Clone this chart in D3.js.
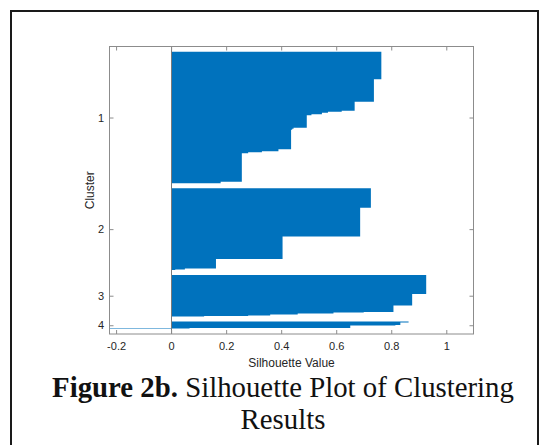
<!DOCTYPE html>
<html>
<head>
<meta charset="utf-8">
<script src="https://cdn.jsdelivr.net/npm/d3@7"></script>
<style>
    html, body { margin: 0; padding: 0; background: #fff; }
    svg { display: block; }
</style>
</head>
<body>
<div id="chart"></div>
<script>
// Silhouette-Werte je Cluster, absteigend sortiert: [Wert, Anzahl Punkte]
var clusterNames = ['1', '2', '3', '4'];
var cluster1 = [[0.764, 55], [0.737, 45], [0.667, 18], [0.62, 2], [0.57, 2], [0.548, 3], [0.51, 2],
                [0.493, 25], [0.445, 2], [0.44, 2], [0.436, 39], [0.39, 4], [0.33, 2], [0.28, 2],
                [0.257, 57], [0.18, 3]];
var cluster2 = [[0.726, 39], [0.687, 57], [0.405, 45], [0.163, 19], [0.05, 2], [0.015, 1]];
var cluster3 = [[0.927, 38], [0.876, 23], [0.808, 13], [0.70, 1], [0.59, 2], [0.46, 2],
                [0.36, 2], [0.28, 1], [0.12, 1]];
var cluster4 = [[0.863, 2], [0.833, 5], [0.815, 1], [0.651, 5], [0.067, 1], [-0.225, 1]];
var xTicks = [-0.2, 0, 0.2, 0.4, 0.6, 0.8, 1];
var xLimits = [-0.225, 1.1];

(function () {
    var width = 545, height = 445;
    var barColor = '#0072BD';
    var axisColor = '#8c8c8c';
    var textColor = '#262626';

    var clusters = [cluster1, cluster2, cluster3, cluster4];
    var n = d3.sum(clusters, function (c) { return d3.sum(c, function (d) { return d[1]; }); });
    var space = Math.max(Math.floor(0.02 * n), 2);

    // Zeilen wie bei MATLAB silhouette(): Lücke vor, zwischen und nach den Clustern
    var groups = [];
    var centers = [];
    var pos = space;
    clusters.forEach(function (c) {
        var start = pos;
        var runs = [];
        c.forEach(function (d) {
            runs.push({ value: d[0], start: pos, end: pos + d[1] });
            pos += d[1];
        });
        groups.push({ start: start, end: pos, runs: runs });
        centers.push((start + pos) / 2);
        pos += space;
    });
    var totalRows = pos;

    var plot = { left: 109.5, right: 473.5, top: 46.5, bottom: 334 };

    var x = d3.scaleLinear().domain(xLimits).range([plot.left - 0.3, plot.right + 0.3]);
    var y = d3.scaleLinear().domain([0, totalRows]).range([plot.top + 0.2, plot.bottom]);

    var svg = d3.select('#chart')
        .append('svg')
        .attr('width', width)
        .attr('height', height);

    svg.append('rect')
        .attr('width', width)
        .attr('height', height)
        .attr('fill', '#fff');

    // Rahmen um die Abbildung
    svg.append('rect')
        .attr('x', 11)
        .attr('y', 11)
        .attr('width', 527)
        .attr('height', height)
        .attr('fill', 'none')
        .attr('stroke', '#1a1a1a')
        .attr('stroke-width', 2);

    /* Balken: ein Treppenpfad je Cluster, damit keine Nähte entstehen */
    function clusterPath(g) {
        var p = d3.path();
        p.moveTo(x(0), y(g.start));
        g.runs.forEach(function (r) {
            p.lineTo(x(r.value), y(r.start));
            p.lineTo(x(r.value), y(r.end));
        });
        p.lineTo(x(0), y(g.end));
        p.closePath();
        return p.toString();
    }

    svg.append('g')
        .selectAll('path')
        .data(groups)
        .join('path')
        .attr('d', clusterPath)
        .attr('fill', barColor);

    // Nulllinie
    svg.append('line')
        .attr('x1', Math.round(x(0)) + 0.5)
        .attr('x2', Math.round(x(0)) + 0.5)
        .attr('y1', plot.top)
        .attr('y2', plot.bottom)
        .attr('stroke', '#7a7a7a')
        .attr('stroke-width', 1);

    /* Achsen */
    function styleAxis(g) {
        g.select('.domain').remove();
        g.selectAll('.tick line').attr('stroke', axisColor);
        g.selectAll('.tick text')
            .attr('fill', textColor)
            .attr('font-family', 'Liberation Sans, Arial, sans-serif')
            .attr('font-size', 11);
    }

    svg.append('g')
        .attr('transform', 'translate(0,' + plot.bottom + ')')
        .call(d3.axisBottom(x).tickValues(xTicks).tickSize(-4).tickPadding(8.5)
            .tickFormat(function (d) { return String(d); }))
        .call(styleAxis);

    svg.append('g')
        .attr('transform', 'translate(0,' + plot.top + ')')
        .call(d3.axisTop(x).tickValues(xTicks).tickSize(-4).tickFormat(''))
        .call(styleAxis);

    svg.append('g')
        .attr('transform', 'translate(' + plot.left + ',0)')
        .call(d3.axisLeft(y).tickValues(centers).tickSize(-4).tickPadding(5.5)
            .tickFormat(function (d, i) { return clusterNames[i]; }))
        .call(styleAxis);

    svg.append('g')
        .attr('transform', 'translate(' + plot.right + ',0)')
        .call(d3.axisRight(y).tickValues(centers).tickSize(-4).tickFormat(''))
        .call(styleAxis);

    svg.append('rect')
        .attr('x', plot.left)
        .attr('y', plot.top)
        .attr('width', plot.right - plot.left)
        .attr('height', plot.bottom - plot.top)
        .attr('fill', 'none')
        .attr('stroke', axisColor)
        .attr('stroke-width', 1);

    /* Achsenbeschriftungen */
    svg.append('text')
        .attr('x', (plot.left + plot.right) / 2)
        .attr('y', 366.5)
        .attr('text-anchor', 'middle')
        .attr('font-family', 'Liberation Sans, Arial, sans-serif')
        .attr('font-size', 12)
        .attr('fill', textColor)
        .text('Silhouette Value');

    svg.append('text')
        .attr('transform', 'translate(93.5,' + ((plot.top + plot.bottom) / 2) + ') rotate(-90)')
        .attr('text-anchor', 'middle')
        .attr('font-family', 'Liberation Sans, Arial, sans-serif')
        .attr('font-size', 12)
        .attr('fill', textColor)
        .text('Cluster');

    /* Bildunterschrift */
    var captionX = 283;
    var cap1 = svg.append('text')
        .attr('x', captionX)
        .attr('y', 396.5)
        .attr('text-anchor', 'middle')
        .attr('font-family', 'Liberation Serif, Times New Roman, serif')
        .attr('font-size', 26)
        .attr('fill', '#111');
    cap1.append('tspan').attr('font-weight', 'bold').text('Figure 2b.');
    cap1.append('tspan').text(' Silhouette Plot of Clustering');

    var cap2 = svg.append('text')
        .attr('x', captionX)
        .attr('y', 429)
        .attr('text-anchor', 'middle')
        .attr('font-family', 'Liberation Serif, Times New Roman, serif')
        .attr('font-size', 26)
        .attr('fill', '#111')
        .text('Results');

    // Schriftgröße an die Breite der Vorlage anpassen
    var len = cap1.node().getComputedTextLength();
    if (len > 0) {
        var size = 26 * 462 / len;
        cap1.attr('font-size', size);
        cap2.attr('font-size', size);
    }
})();
</script>
</body>
</html>
